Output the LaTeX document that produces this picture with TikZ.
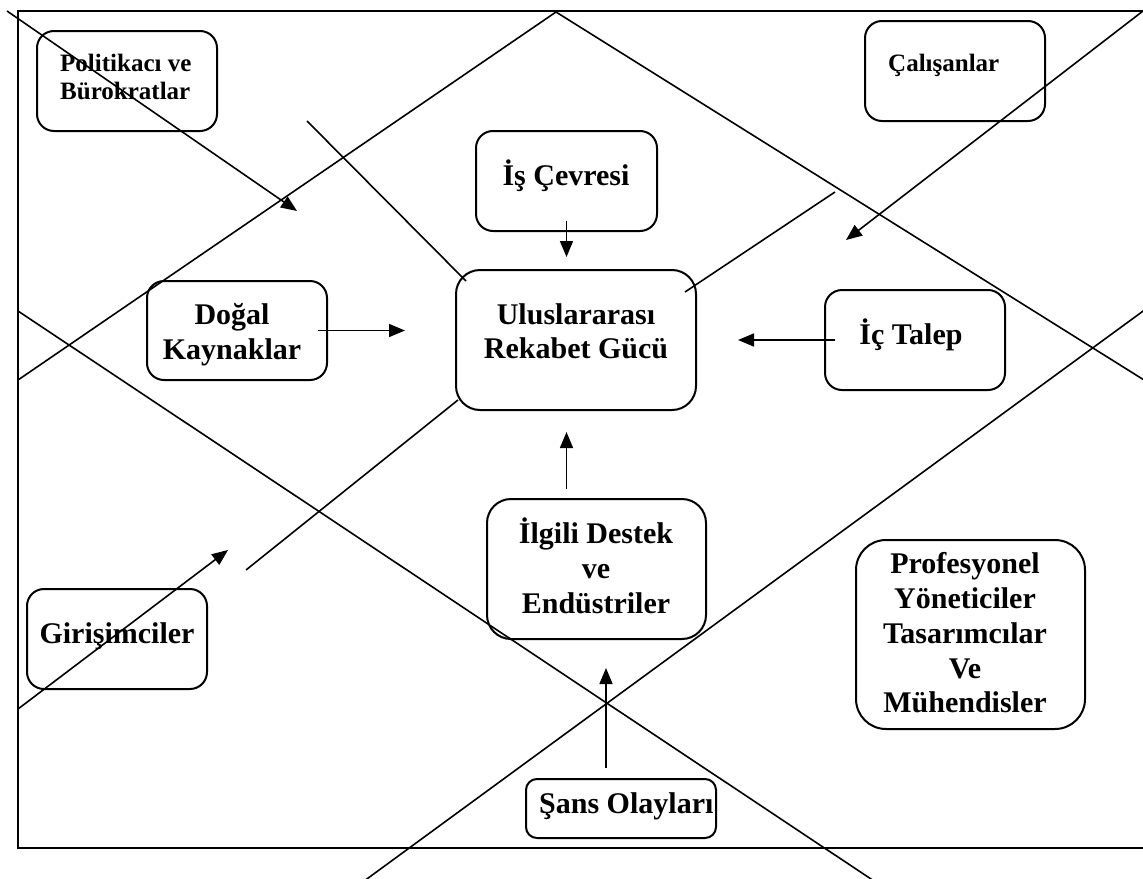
\documentclass[tikz,border=0pt]{standalone}
\usepackage{fontspec}
\setmainfont{Liberation Serif}
\usetikzlibrary{arrows.meta,calc}
\begin{document}
\begin{tikzpicture}[x=1pt,y=-1pt,
  box/.style={draw, line width=2pt, rounded corners=#1, inner sep=0pt},
  box/.default=17pt,
  bigtxt/.style={inner sep=0pt, font=\fontsize{30}{35}\selectfont\bfseries},
  smalltxt/.style={inner sep=0pt, font=\fontsize{25}{28}\selectfont\bfseries},
  ln/.style={line width=1.6pt},
  arr/.style={line width=1.6pt, -{Triangle[length=16pt,width=13pt]}}]
\fill[white] (0,0) rectangle (1143,878);
\useasboundingbox (0,0) rectangle (1143,878);

% outer frame
\draw[line width=2.2pt] (18,11) rectangle (1175,848);

% boxes
\node[box=17pt, minimum width=180pt, minimum height=100pt] (pol) at (127,81) {};
\node[box=17pt, minimum width=180pt, minimum height=100pt] (cal) at (955,71) {};
\node[box=17pt, minimum width=181pt, minimum height=100pt] (is) at (566.5,181) {};
\node[box=24pt, minimum width=240pt, minimum height=140pt] (urg) at (576,340) {};
\node[box=17pt, minimum width=180pt, minimum height=99pt] (dogal) at (237,330.5) {};
\node[box=17pt, minimum width=180pt, minimum height=100pt] (ic) at (915,340) {};
\node[box=24pt, minimum width=219pt, minimum height=140pt] (ilgili) at (596.5,569) {};
\node[box=17pt, minimum width=180pt, minimum height=100pt] (gir) at (117,639) {};
\node[box=30pt, minimum width=229pt, minimum height=189pt] (prof) at (970.5,634.5) {};
\node[box=11pt, minimum width=190pt, minimum height=59pt] (sans) at (621,808.5) {};

% texts
\node[smalltxt, anchor=base west] at (60,71) {Politikacı ve};
\node[smalltxt, anchor=base west] at (60,99) {Bürokratlar};
\node[smalltxt, anchor=base west] at (888,71) {Çalışanlar};
\node[bigtxt, anchor=base] at (566,185) {İş Çevresi};
\node[bigtxt, anchor=base] at (576,324) {Uluslararası};
\node[bigtxt, anchor=base] at (576,358) {Rekabet Gücü};
\node[bigtxt, anchor=base] at (232,324) {Doğal};
\node[bigtxt, anchor=base] at (232,359) {Kaynaklar};
\node[bigtxt, anchor=base] at (911,344) {İç Talep};
\node[bigtxt, anchor=base] at (596,543) {İlgili Destek};
\node[bigtxt, anchor=base] at (596,578) {ve};
\node[bigtxt, anchor=base] at (596,613) {Endüstriler};
\node[bigtxt, anchor=base] at (117,643) {Girişimciler};
\node[bigtxt, anchor=base] at (965,573) {Profesyonel};
\node[bigtxt, anchor=base] at (965,608) {Yöneticiler};
\node[bigtxt, anchor=base] at (965,643) {Tasarımcılar};
\node[bigtxt, anchor=base] at (965,678) {Ve};
\node[bigtxt, anchor=base] at (965,712) {Mühendisler};
\node[bigtxt, anchor=base west] at (539,813) {Şans Olayları};

% diamond lines
\coordinate (top) at (556,12);
\coordinate (dl) at (18,380);
\coordinate (dr) at (1160,390);
\draw[ln] (top) -- (dl);
\draw[ln] (top) -- (dr);
\coordinate (xa1) at (18,311);
\coordinate (xa2) at (880,885);
\coordinate (xb1) at (1150,306);
\coordinate (xb2) at (360,884);
\draw[ln] (xa1) -- (xa2);
\draw[ln] (xb1) -- (xb2);

% broken segments around the centre box
\coordinate (s1) at (307,121);
\coordinate (s2) at (835,192);
\coordinate (s3) at (246,570);
\draw[ln] (s1) -- (466,281);
\draw[ln] (s2) -- (685,292);
\draw[ln] (458,400) -- (s3);

% long arrows
\coordinate (pa) at (7,11);
\coordinate (pb) at (297,211);
\draw[arr] (pa) -- (pb);
\coordinate (ca) at (1143,11);
\coordinate (cb) at (846,240);
\draw[arr] (ca) -- (cb);
\coordinate (ga) at (18,709);
\coordinate (gb) at (228,550);
\draw[arr] (ga) -- (gb);

% arrows between boxes
\draw[arr] ([yshift=11pt]is.south) -- ($(is.south |- urg.north)+(0,-12)$);
\draw[arr] ([xshift=-10pt]dogal.east) -- ($(dogal.east -| urg.west)+(-50,0)$);
\draw[arr] ([xshift=11pt]ic.west) -- ($(ic.west -| urg.east)+(41,0)$);
\draw[arr] ($(is.south |- ilgili.north)+(0,-9)$) -- ($(is.south |- urg.south)+(0,21)$);
\draw[arr] ($(sans.north)+(-15,-10)$) -- ($(sans.north)+(-15,-110)$);
\end{tikzpicture}
\end{document}
